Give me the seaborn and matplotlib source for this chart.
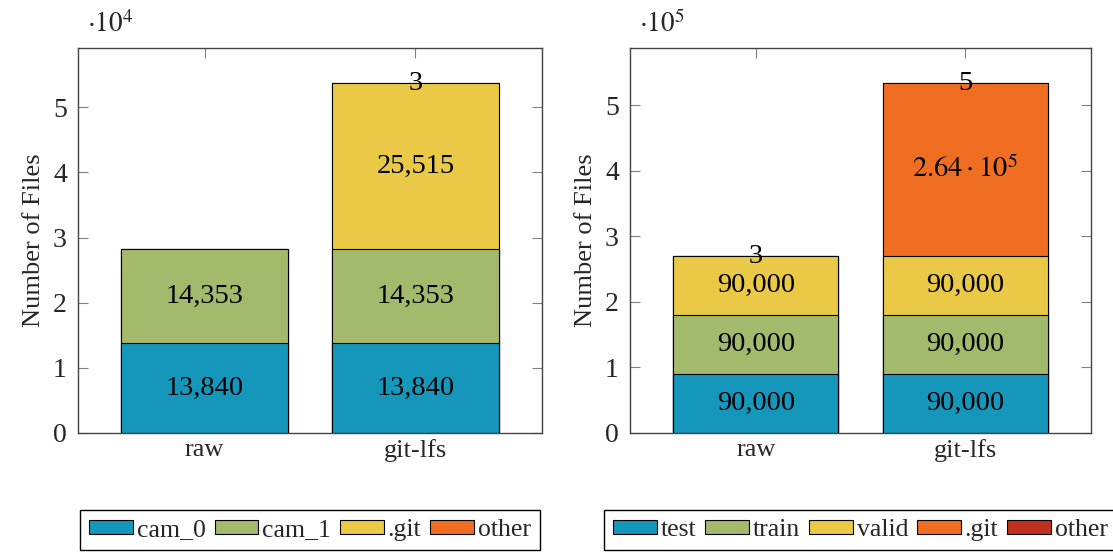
import numpy as np
import pandas as pd
import matplotlib
matplotlib.use('Agg')
from matplotlib import pyplot as plt
import matplotlib.ticker as ticker
from matplotlib.patches import Patch
import seaborn as sns

# DATA
methods = ['raw', 'git-lfs']

left_names = ['cam_0', 'cam_1', '.git', 'other']
cam0 = [13840, 13840]
cam1 = [14353, 14353]
left_git = [0, 25515]
left_other = [0, 3]

right_names = ['test', 'train', 'valid', '.git', 'other']
test = [90000, 90000]
train = [90000, 90000]
valid = [90000, 90000]
right_git = [0, 264000]
right_other = [3, 5]

clr_blue = '#1596bb'
clr_green = '#a3b96c'
clr_yellow = '#e9c945'
clr_orange = '#f06e22'
clr_red = '#c0301f'


sns.set_style('ticks')
plt.rcParams['font.family'] = ['Liberation Serif', 'DejaVu Serif']
plt.rcParams['mathtext.fontset'] = 'stix'


def fmt_value(v):
    if v >= 100000:
        e = int(np.floor(np.log10(v)))
        return r'$%.2f\cdot10^{%d}$' % (v / 10**e, e)
    return '{:,}'.format(v)


def plot_stacked(ax, layers, names, colors, exp):
    cum = np.cumsum(np.array(layers), axis=0)
    # tallest first, so each lower layer sits on top of it
    for i in reversed(range(len(layers))):
        df = pd.DataFrame({'method': methods, 'files': cum[i]})
        sns.barplot(data=df, x='method', y='files', color=colors[i], saturation=1,
                    width=0.79, edgecolor='black', linewidth=0.8, errorbar=None, ax=ax)

    for i, vals in enumerate(layers):
        for j, v in enumerate(vals):
            if v == 0:
                continue
            ax.text(j, cum[i][j] - v / 2, fmt_value(v), ha='center', va='center',
                    fontsize=20.5, color='black')

    ax.set_xlim(-0.6, 1.6)
    ax.set_ylim(0, cum[-1].max() * 1.1)
    ax.yaxis.set_major_locator(ticker.MultipleLocator(10**exp))
    ax.yaxis.set_major_formatter(ticker.FuncFormatter(lambda y, _: '{:g}'.format(y / 10**exp)))

    ax.tick_params(axis='y', direction='in', left=True, right=True, length=7, width=0.8,
                   color='#808080', labelsize=20, pad=8)
    ax.tick_params(axis='x', direction='in', top=True, bottom=False, length=7, width=0.8,
                   color='#808080', labelsize=19, pad=4)
    for s in ax.spines.values():
        s.set_visible(True)
        s.set_color('#444444')
        s.set_linewidth(1)

    ax.set_xlabel('')
    ax.set_ylabel('Number of Files', fontsize=19, labelpad=6)
    ax.text(0.02, 1.025, r'$\cdot10^{%d}$' % exp, transform=ax.transAxes,
            ha='left', va='bottom', fontsize=19.5)

    handles = [Patch(facecolor=c, edgecolor='black', linewidth=0.8) for c in colors]
    leg = ax.legend(handles, names, loc='upper center', bbox_to_anchor=(0.5, -0.2),
                    borderaxespad=0, ncol=len(names), fontsize=18.5, frameon=True,
                    fancybox=False, edgecolor='black', framealpha=1, borderpad=0.35,
                    handlelength=1.7, handleheight=0.5, handletextpad=0.15,
                    columnspacing=0.35)
    leg.get_frame().set_linewidth(1)


fig = plt.figure(figsize=(11.13, 5.53), dpi=100)
ax1 = fig.add_axes([78 / 1113, 1 - 433 / 553, 464 / 1113, 385 / 553])
ax2 = fig.add_axes([630 / 1113, 1 - 433 / 553, 461 / 1113, 385 / 553])

plot_stacked(ax1, [cam0, cam1, left_git, left_other], left_names,
             [clr_blue, clr_green, clr_yellow, clr_orange], 4)
plot_stacked(ax2, [test, train, valid, right_git, right_other], right_names,
             [clr_blue, clr_green, clr_yellow, clr_orange, clr_red], 5)

fig.savefig('out.png', dpi=100)
plt.close()
